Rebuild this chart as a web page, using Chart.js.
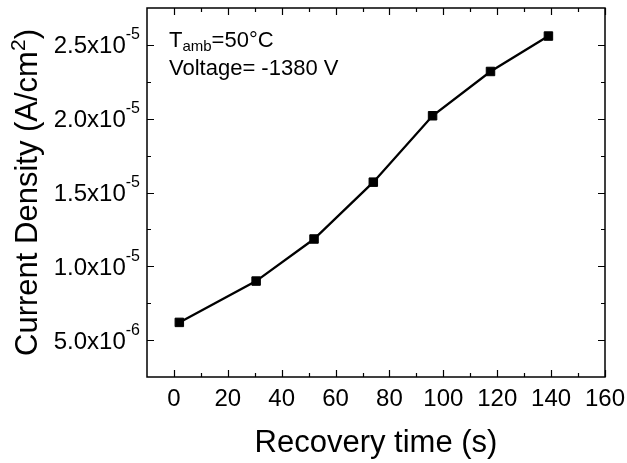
<!DOCTYPE html>
<html>
<head>
<meta charset="utf-8">
<script src="https://cdn.jsdelivr.net/npm/chart.js"></script>
<style>
  body { margin: 0; background: #fff; }
</style>
</head>
<body>
<canvas id="myChart" width="627" height="463"></canvas>
<script>
// recovery time (s) and current density (A/cm2)
const recoveryTime = [2, 30.5, 52, 74, 96, 117.5, 139];
const currentDensity = [6.2e-6, 9.0e-6, 1.185e-5, 1.57e-5, 2.02e-5, 2.32e-5, 2.56e-5];

const xTicks = [0, 20, 40, 60, 80, 100, 120, 140, 160];
const xMinorTicks = [10, 30, 50, 70, 90, 110, 130, 150];
const yTicks = [5e-6, 1e-5, 1.5e-5, 2e-5, 2.5e-5];
const yMinorTicks = [7.5e-6, 1.25e-5, 1.75e-5, 2.25e-5];

const FONT = '"Liberation Sans", Arial, sans-serif';

// frame, inward ticks on all 4 sides, labels with superscripts
const framePlugin = {
  id: 'frame',
  afterDraw(chart) {
    const ctx = chart.ctx;
    const a = chart.chartArea;
    const xs = chart.scales.x;
    const ys = chart.scales.y;
    ctx.save();
    ctx.strokeStyle = '#000';
    ctx.lineWidth = 1.5;
    ctx.strokeRect(a.left, a.top, a.right - a.left, a.bottom - a.top);

    ctx.lineWidth = 1.2;
    ctx.beginPath();
    const xTick = (v, len) => {
      const px = Math.round(xs.getPixelForValue(v)) + 0.5;
      ctx.moveTo(px, a.bottom); ctx.lineTo(px, a.bottom - len);
      ctx.moveTo(px, a.top); ctx.lineTo(px, a.top + len);
    };
    const yTick = (v, len) => {
      const py = Math.round(ys.getPixelForValue(v)) + 0.5;
      ctx.moveTo(a.left, py); ctx.lineTo(a.left + len, py);
      ctx.moveTo(a.right, py); ctx.lineTo(a.right - len, py);
    };
    xTicks.forEach(v => xTick(v, 7));
    xMinorTicks.forEach(v => xTick(v, 4));
    yTicks.forEach(v => yTick(v, 7));
    yMinorTicks.forEach(v => yTick(v, 4));
    ctx.stroke();

    ctx.fillStyle = '#000';
    // x tick labels
    ctx.font = '24px ' + FONT;
    ctx.textAlign = 'center';
    ctx.textBaseline = 'alphabetic';
    xTicks.forEach(v => {
      ctx.fillText(String(v), xs.getPixelForValue(v), a.bottom + 29);
    });

    // y tick labels like 2.5x10^-5
    ctx.textAlign = 'left';
    yTicks.forEach(v => {
      const e = Math.floor(Math.log10(v) + 1e-9);
      const m = (v / Math.pow(10, e)).toFixed(1) + 'x10';
      const sup = String(e);
      ctx.font = '24px ' + FONT;
      const mw = ctx.measureText(m).width;
      ctx.font = '16px ' + FONT;
      const sw = ctx.measureText(sup).width;
      const right = a.left - 7;
      const base = ys.getPixelForValue(v) + 8.5;
      ctx.font = '24px ' + FONT;
      ctx.fillText(m, right - sw - mw, base);
      ctx.font = '16px ' + FONT;
      ctx.fillText(sup, right - sw, base - 14);
    });

    // x title
    ctx.font = '31px ' + FONT;
    ctx.textAlign = 'center';
    ctx.fillText('Recovery time (s)', (a.left + a.right) / 2, 452);

    // y title, rotated, with superscript 2
    ctx.save();
    ctx.translate(37, (a.top + a.bottom) / 2);
    ctx.rotate(-Math.PI / 2);
    const t1 = 'Current Density (A/cm';
    const t2 = '2';
    const t3 = ')';
    ctx.font = '31px ' + FONT;
    const w1 = ctx.measureText(t1).width;
    const w3 = ctx.measureText(t3).width;
    ctx.font = '21px ' + FONT;
    const w2 = ctx.measureText(t2).width;
    let x0 = -(w1 + w2 + w3) / 2;
    ctx.textAlign = 'left';
    ctx.font = '31px ' + FONT;
    ctx.fillText(t1, x0, 0);
    ctx.font = '21px ' + FONT;
    ctx.fillText(t2, x0 + w1, -12);
    ctx.font = '31px ' + FONT;
    ctx.fillText(t3, x0 + w1 + w2, 0);
    ctx.restore();

    // annotation
    ctx.textAlign = 'left';
    let tx = a.left + 22;
    ctx.font = '22px ' + FONT;
    ctx.fillText('T', tx, 47);
    tx += ctx.measureText('T').width;
    ctx.font = '15px ' + FONT;
    ctx.fillText('amb', tx, 51);
    tx += ctx.measureText('amb').width;
    ctx.font = '22px ' + FONT;
    ctx.fillText('=50°C', tx, 47);
    ctx.fillText('Voltage= -1380 V', a.left + 22, 75);
    ctx.restore();
  }
};

const data = {
  datasets: [{
    data: recoveryTime.map((t, i) => ({ x: t, y: currentDensity[i] })),
    borderColor: '#000',
    borderWidth: 2.3,
    pointStyle: 'rect',
    pointRadius: 6,
    pointBorderWidth: 1,
    pointBackgroundColor: '#000',
    pointBorderColor: '#000',
    tension: 0
  }]
};

const config = {
  type: 'line',
  data: data,
  options: {
    responsive: false,
    devicePixelRatio: 1,
    animation: false,
    layout: { padding: { left: 147, right: 22, top: 8, bottom: 86 } },
    plugins: { legend: { display: false }, tooltip: { enabled: false } },
    scales: {
      x: { type: 'linear', min: -10, max: 160, display: false },
      y: { type: 'linear', min: 2.5e-6, max: 2.75e-5, display: false }
    }
  },
  plugins: [framePlugin]
};

const myChart = new Chart(document.getElementById('myChart'), config);
</script>
</body>
</html>
